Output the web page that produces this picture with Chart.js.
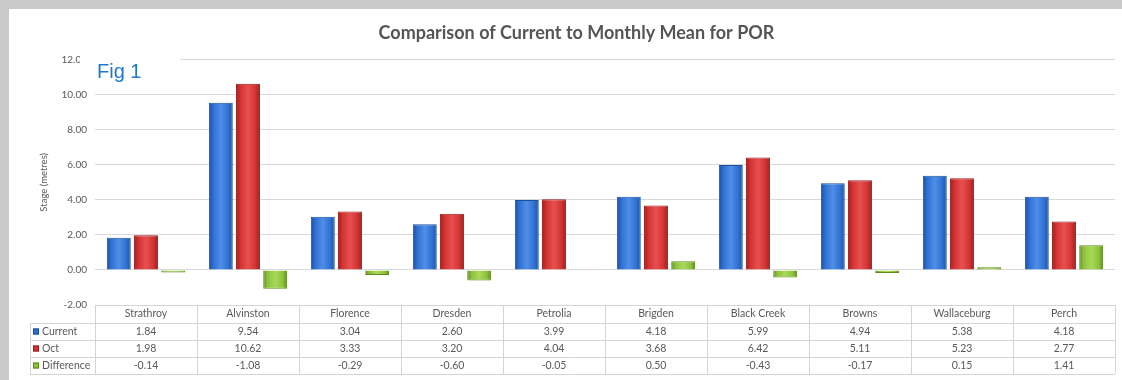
<!DOCTYPE html>
<html>
<head>
<meta charset="utf-8">
<script src="https://cdn.jsdelivr.net/npm/chart.js@4/dist/chart.umd.min.js"></script>
<style>
  html,body{margin:0;padding:0;background:#fff;}
  #wrap{width:1122px;height:380px;position:relative;}
</style>
</head>
<body>
<div id="wrap"><canvas id="c" width="1122" height="380"></canvas></div>
<script>
const categories = ["Strathroy","Alvinston","Florence","Dresden","Petrolia","Brigden","Black Creek","Browns","Wallaceburg","Perch"];
const currentVals = [1.84, 9.54, 3.04, 2.60, 3.99, 4.18, 5.99, 4.94, 5.38, 4.18];
const octVals = [1.98, 10.62, 3.33, 3.20, 4.04, 3.68, 6.42, 5.11, 5.23, 2.77];
const diffVals = [-0.14, -1.08, -0.29, -0.60, -0.05, 0.50, -0.43, -0.17, 0.15, 1.41];
const seriesNames = ["Current", "Oct", "Difference"];
const yTicks = [-2, 0, 2, 4, 6, 8, 10, 12];

const COLORS = ["#2f6fd1", "#d23232", "#8dc23c"];
const DARK = ["#1b4f9e", "#9c1c1c", "#5b8a1a"];
const LIGHT = ["#4f8fe8", "#e85050", "#a8d858"];
const FONT = "Lato, 'Open Sans', sans-serif";
const CAT_PCT = 0.8, BAR_PCT = 0.88;

function barFill(context) {
  const chart = context.chart;
  const ds = context.datasetIndex;
  const xs = chart.scales && chart.scales.x;
  const area = chart.chartArea;
  if (!xs || !area || context.dataIndex === undefined) return COLORS[ds];
  const step = (area.right - area.left) / categories.length;
  const slot = step * CAT_PCT / 3;
  const w = slot * BAR_PCT;
  const cx = xs.getPixelForValue(context.dataIndex) + (ds - 1) * slot;
  const g = chart.ctx.createLinearGradient(cx - w / 2, 0, cx + w / 2, 0);
  g.addColorStop(0, DARK[ds]);
  g.addColorStop(0.18, COLORS[ds]);
  g.addColorStop(0.5, LIGHT[ds]);
  g.addColorStop(0.82, COLORS[ds]);
  g.addColorStop(1, DARK[ds]);
  return g;
}

const framePlugin = {
  id: 'frame',
  beforeDraw(chart) {
    const ctx = chart.ctx;
    ctx.save();
    ctx.fillStyle = '#c9c9c9';
    ctx.fillRect(0, 0, chart.width, chart.height);
    ctx.fillStyle = '#ffffff';
    ctx.fillRect(9, 9, chart.width - 9, chart.height - 9);
    ctx.restore();
  }
};

const tablePlugin = {
  id: 'dataTable',
  afterDraw(chart) {
    const ctx = chart.ctx;
    const x = chart.scales.x;
    const area = chart.chartArea;
    const top = area.bottom;
    const rowH = 17;
    const headH = 18;
    const rows = [currentVals, octVals, diffVals];
    const n = categories.length;
    const step = (area.right - area.left) / n;
    const keyLeft = 30;
    const bottom = top + headH + rowH * 3;
    ctx.save();
    ctx.strokeStyle = '#d4d4d4';
    ctx.lineWidth = 1;
    ctx.beginPath();
    ctx.moveTo(area.left, top + 0.5); ctx.lineTo(area.right, top + 0.5);
    for (let r = 0; r <= 3; r++) {
      const y = Math.round(top + headH + r * rowH) + 0.5;
      ctx.moveTo(keyLeft, y); ctx.lineTo(area.right, y);
    }
    for (let i = 0; i <= n; i++) {
      const xx = Math.round(area.left + i * step) + 0.5;
      ctx.moveTo(xx, top); ctx.lineTo(xx, bottom);
    }
    ctx.moveTo(keyLeft + 0.5, top + headH); ctx.lineTo(keyLeft + 0.5, bottom);
    ctx.stroke();

    ctx.fillStyle = '#595959';
    ctx.font = "10.5px " + FONT;
    ctx.textAlign = 'center';
    ctx.textBaseline = 'middle';
    categories.forEach((c, i) => {
      const cx = x.getPixelForValue(i);
      ctx.fillText(c, cx, top + headH / 2);
      rows.forEach((vals, r) => {
        ctx.fillText(vals[i].toFixed(2), cx, top + headH + r * rowH + rowH / 2);
      });
    });
    ctx.textAlign = 'left';
    seriesNames.forEach((s, r) => {
      const cy = top + headH + r * rowH + rowH / 2;
      ctx.fillStyle = COLORS[r];
      ctx.fillRect(keyLeft + 3, cy - 3, 6, 6);
      ctx.strokeStyle = DARK[r];
      ctx.strokeRect(keyLeft + 3.5, cy - 2.5, 5, 5);
      ctx.fillStyle = '#595959';
      ctx.fillText(s, keyLeft + 12, cy);
    });

    // Fig 1 overlay
    ctx.fillStyle = '#ffffff';
    ctx.fillRect(80, 53, 100, 36);
    ctx.fillStyle = '#1f78cc';
    ctx.font = "20px 'Liberation Sans', Arial, sans-serif";
    ctx.textAlign = 'left';
    ctx.textBaseline = 'alphabetic';
    ctx.fillText('Fig 1', 97, 78);
    ctx.restore();
  }
};

new Chart(document.getElementById('c'), {
  type: 'bar',
  data: {
    labels: categories,
    datasets: [
      { label: seriesNames[0], data: currentVals, backgroundColor: barFill, borderColor: DARK[0], borderWidth: 1 },
      { label: seriesNames[1], data: octVals, backgroundColor: barFill, borderColor: DARK[1], borderWidth: 1 },
      { label: seriesNames[2], data: diffVals, backgroundColor: barFill, borderColor: DARK[2], borderWidth: 1 }
    ]
  },
  options: {
    responsive: false,
    animation: false,
    devicePixelRatio: 1,
    layout: { padding: { left: 38, right: 7, top: 10, bottom: 75 } },
    datasets: { bar: { categoryPercentage: CAT_PCT, barPercentage: BAR_PCT } },
    plugins: {
      legend: { display: false },
      tooltip: { enabled: false },
      title: {
        display: true,
        text: 'Comparison of Current to Monthly Mean for POR',
        color: '#555555',
        font: { family: FONT, size: 18, weight: 'bold' },
        padding: { top: 12, bottom: 16 }
      }
    },
    scales: {
      x: {
        display: false,
        grid: { display: false }
      },
      y: {
        min: yTicks[0],
        max: yTicks[yTicks.length - 1],
        afterBuildTicks(scale) { scale.ticks = yTicks.map(v => ({ value: v })); },
        afterFit(scale) { scale.width = 57; },
        border: { display: false },
        grid: { color: '#d9d9d9', drawTicks: false },
        ticks: {
          color: '#595959',
          font: { family: FONT, size: 10 },
          padding: 8,
          callback: v => Number(v).toFixed(2)
        },
        title: {
          display: true,
          text: 'Stage (metres)',
          color: '#595959',
          font: { family: FONT, size: 9.5 },
          padding: { top: 0, bottom: 0 }
        }
      }
    }
  },
  plugins: [framePlugin, tablePlugin]
});
</script>
</body>
</html>
